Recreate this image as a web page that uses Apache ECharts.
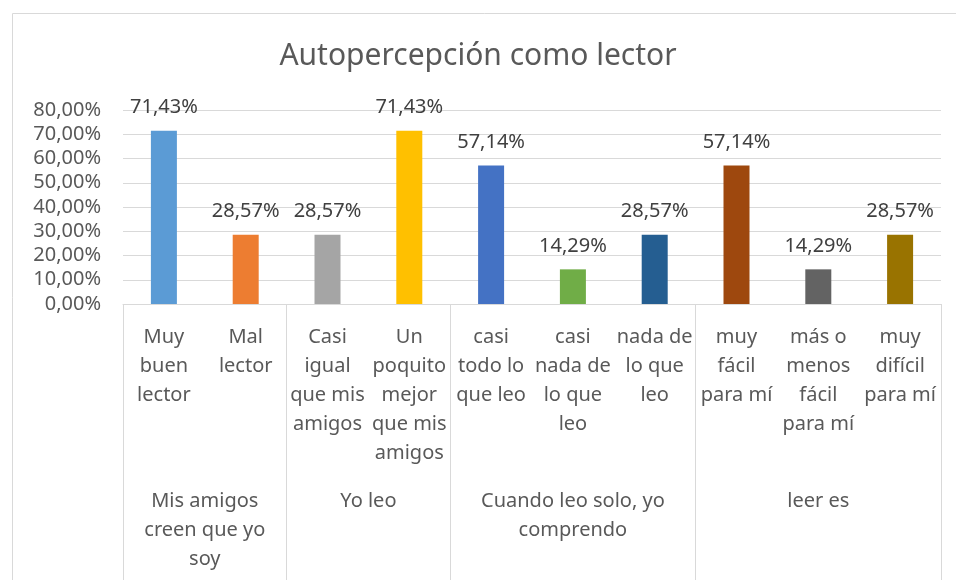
<!DOCTYPE html>
<html>
<head>
<meta charset="utf-8">
<script src="https://cdn.jsdelivr.net/npm/echarts@6/dist/echarts.min.js"></script>
<style>
  html, body { margin: 0; padding: 0; background: #fff; }
  #main { width: 956px; height: 580px; }
</style>
</head>
<body>
<div id="main"></div>
<script>
// categorías (nivel 1)
var categories = [
  "Muy\nbuen\nlector", "Mal\nlector",
  "Casi\nigual\nque mis\namigos", "Un\npoquito\nmejor\nque mis\namigos",
  "casi\ntodo lo\nque leo", "casi\nnada de\nlo que\nleo", "nada de\nlo que\nleo",
  "muy\nfácil\npara mí", "más o\nmenos\nfácil\npara mí", "muy\ndifícil\npara mí"
];
// grupos (nivel 2)
var groups = ["Mis amigos\ncreen que yo\nsoy", "Yo leo", "Cuando leo solo, yo\ncomprendo", "leer es"];
var groupSizes = [2, 2, 3, 3];
// valores (%)
var values = [71.43, 28.57, 28.57, 71.43, 57.14, 14.29, 28.57, 57.14, 14.29, 28.57];
var yTicks = [0, 10, 20, 30, 40, 50, 60, 70, 80];

var palette = ["#5B9BD5", "#ED7D31", "#A5A5A5", "#FFC000", "#4472C4",
               "#70AD47", "#255E91", "#9E480E", "#636363", "#997300"];

// eje de grupos: medias posiciones, etiqueta en el centro de cada grupo
var halfSlots = [];
var boundaries = [0];
var pos = 0;
for (var i = 0; i <= categories.length * 2; i++) halfSlots.push("");
groups.forEach(function (g, k) {
  var center = pos + groupSizes[k];
  halfSlots[center] = g;
  pos += groupSizes[k] * 2;
  boundaries.push(pos);
});

function fmt(v) {
  return v.toFixed(2).replace(".", ",") + "%";
}

var chart = echarts.init(document.getElementById("main"));
var font = "'Noto Sans', sans-serif";

chart.setOption({
  animation: false,
  textStyle: { fontFamily: font },
  title: {
    text: "Autopercepción como lector",
    left: "center",
    top: 36,
    textStyle: { fontSize: 30, fontWeight: "normal", color: "#595959", fontFamily: font }
  },
  graphic: [{
    type: "rect",
    left: 10, top: 11,
    shape: { width: 960, height: 600 },
    style: { fill: "none", stroke: "#d9d9d9", lineWidth: 1 }
  }],
  grid: { left: 123, right: 15, top: 110, bottom: 276 },
  xAxis: [
    {
      type: "category",
      data: categories,
      position: "bottom",
      axisLine: { lineStyle: { color: "#d9d9d9" } },
      axisTick: { show: false },
      axisLabel: {
        interval: 0,
        margin: 19,
        fontSize: 20,
        lineHeight: 29,
        color: "#595959",
        align: "center"
      }
    },
    {
      type: "category",
      data: halfSlots,
      position: "bottom",
      boundaryGap: false,
      axisLine: { show: false },
      axisTick: {
        show: true,
        length: 280,
        interval: function (idx) { return boundaries.indexOf(idx) >= 0; },
        lineStyle: { color: "#d9d9d9" }
      },
      axisLabel: {
        interval: 0,
        margin: 183,
        fontSize: 20,
        lineHeight: 29,
        color: "#595959",
        align: "center"
      }
    }
  ],
  yAxis: {
    type: "value",
    min: yTicks[0],
    max: yTicks[yTicks.length - 1],
    interval: 10,
    axisLine: { show: false },
    axisTick: { show: false },
    splitLine: { lineStyle: { color: "#d9d9d9" } },
    axisLabel: {
      fontSize: 20,
      color: "#595959",
      margin: 22,
      formatter: function (v) { return fmt(v); }
    }
  },
  series: [{
    type: "bar",
    xAxisIndex: 0,
    barWidth: 26,
    data: values.map(function (v, i) {
      return { value: v, itemStyle: { color: palette[i] } };
    }),
    label: {
      show: true,
      position: "top",
      distance: 13,
      fontSize: 20,
      color: "#404040",
      formatter: function (p) { return fmt(p.value); }
    }
  }]
});
</script>
</body>
</html>
